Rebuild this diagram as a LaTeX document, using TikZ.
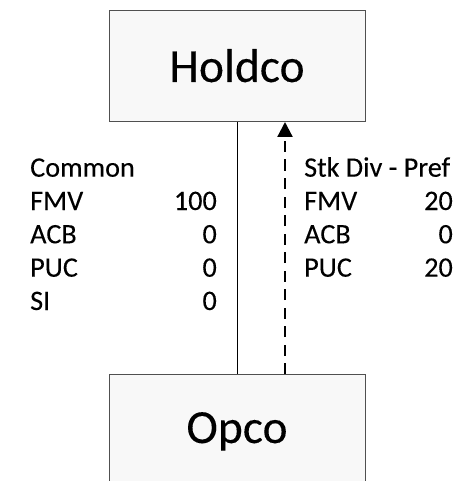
\documentclass[tikz,border=0pt]{standalone}
\usepackage{fontspec}
\setmainfont[FakeBold=0.15]{Carlito}
\usetikzlibrary{arrows.meta}
\definecolor{boxfill}{HTML}{F8F8F8}
\definecolor{boxline}{HTML}{505050}
\begin{document}
\begin{tikzpicture}[x=1pt,y=-1pt,
  entity/.style={draw=boxline,fill=boxfill,line width=1pt,minimum width=256pt,inner sep=0pt,outer sep=0pt},
  bigtext/.style={font=\fontsize{47.5}{52}\selectfont,inner sep=0pt},
  lbl/.style={font=\fontsize{28.2}{32}\selectfont,inner sep=0pt,anchor=base west},
  num/.style={font=\fontsize{28.2}{32}\selectfont,inner sep=0pt,anchor=base east},
  link/.style={line width=1pt,black},
  divlink/.style={line width=2.2pt,black,dash pattern=on 11pt off 7.5pt,-{Triangle[length=15pt,width=15pt]}}]
\useasboundingbox (0,0) rectangle (457,481);
\clip (0,0) rectangle (457,481);
\node[entity,minimum height=111pt] (holdco) at (237,66.5) {};
\node[bigtext,anchor=base] (holdcotext) at (237,82) {Holdco};
\node[entity,minimum height=130pt] (opco) at (237,439) {};
\node[bigtext,anchor=base] (opcotext) at (237,443) {Opco};
\draw[link] (holdco.south) -- (opco.north);
\draw[divlink] ([xshift=48pt]opco.north) -- ([xshift=48pt]holdco.south);
% left column
\node[lbl] (lc) at (30,176.7) {Common};
\node[lbl] (lf) at (30,210) {FMV};
\node[num] (lfv) at (217,210) {100};
\node[lbl] (la) at (30,243.3) {ACB};
\node[num] (lav) at (217,243.3) {0};
\node[lbl] (lp) at (30,276.7) {PUC};
\node[num] (lpv) at (217,276.7) {0};
\node[lbl] (ls) at (30,310) {SI};
\node[num] (lsv) at (217,310) {0};
% right column
\node[lbl] (rc) at (304,176.7) {Stk Div - Pref};
\node[lbl] (rf) at (304,210) {FMV};
\node[num] (rfv) at (453,210) {20};
\node[lbl] (ra) at (304,243.3) {ACB};
\node[num] (rav) at (453,243.3) {0};
\node[lbl] (rp) at (304,276.7) {PUC};
\node[num] (rpv) at (453,276.7) {20};
\end{tikzpicture}
\end{document}
